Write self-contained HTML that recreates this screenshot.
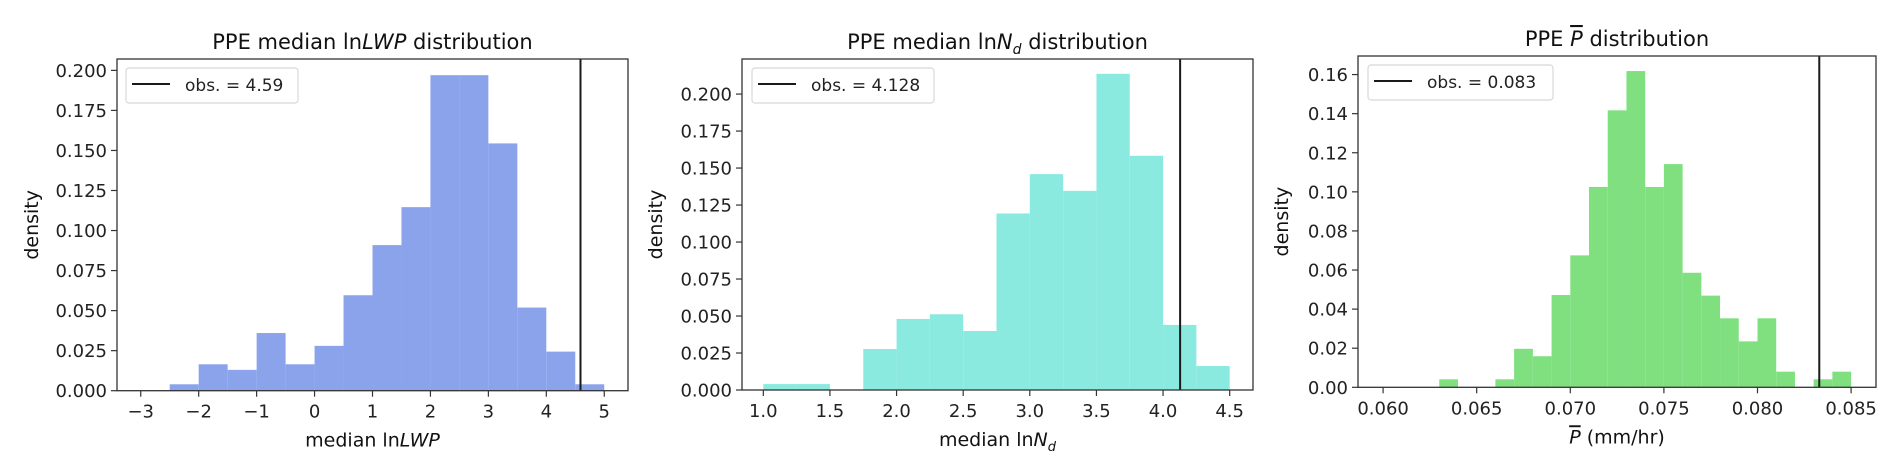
<!DOCTYPE html>
<html><head><meta charset="utf-8">
<style>
body{margin:0;background:#fff;}
svg{display:block;font-family:"DejaVu Sans","Liberation Sans",sans-serif;}
</style></head>
<body>
<svg id="fig" width="1892" height="469" viewBox="0 0 1892 469" xmlns="http://www.w3.org/2000/svg"></svg>
<script>
// Panel 1: ln LWP
const lwpBinEdges = [-2.5,-2,-1.5,-1,-0.5,0,0.5,1,1.5,2,2.5,3,3.5,4,4.5,5];
const lwpDensity = [0.004,0.0165,0.013,0.036,0.0165,0.028,0.0596,0.0909,0.1146,0.197,0.197,0.1544,0.0519,0.0244,0.004];
const lwpXTicks = [-3,-2,-1,0,1,2,3,4,5];
const lwpXTickLabels = ["\u22123","\u22122","\u22121","0","1","2","3","4","5"];
const lwpYTicks = [0,0.025,0.05,0.075,0.1,0.125,0.15,0.175,0.2];
const lwpYTickLabels = ["0.000","0.025","0.050","0.075","0.100","0.125","0.150","0.175","0.200"];
const lwpObs = 4.59;
// Panel 2: ln Nd
const ndBinEdges = [1,1.25,1.5,1.75,2,2.25,2.5,2.75,3,3.25,3.5,3.75,4,4.25,4.5];
const ndDensity = [0.004,0.004,0,0.0277,0.048,0.0512,0.0399,0.1193,0.1459,0.1346,0.2137,0.1583,0.044,0.0162];
const ndXTicks = [1,1.5,2,2.5,3,3.5,4,4.5];
const ndXTickLabels = ["1.0","1.5","2.0","2.5","3.0","3.5","4.0","4.5"];
const ndYTicks = [0,0.025,0.05,0.075,0.1,0.125,0.15,0.175,0.2];
const ndYTickLabels = ["0.000","0.025","0.050","0.075","0.100","0.125","0.150","0.175","0.200"];
const ndObs = 4.128;
// Panel 3: P bar
const pBinEdges = [0.063,0.064,0.065,0.066,0.067,0.068,0.069,0.070,0.071,0.072,0.073,0.074,0.075,0.076,0.077,0.078,0.079,0.080,0.081,0.082,0.083,0.084,0.085];
const pDensity = [0.0041,0,0,0.0041,0.0197,0.0159,0.0472,0.0675,0.1025,0.1417,0.1618,0.1025,0.1142,0.0586,0.0469,0.0353,0.0235,0.0353,0.008,0,0.0041,0.008];
const pXTicks = [0.060,0.065,0.070,0.075,0.080,0.085];
const pXTickLabels = ["0.060","0.065","0.070","0.075","0.080","0.085"];
const pYTicks = [0,0.02,0.04,0.06,0.08,0.10,0.12,0.14,0.16];
const pYTickLabels = ["0.00","0.02","0.04","0.06","0.08","0.10","0.12","0.14","0.16"];
const pObs = 0.0833;

const NS = "http://www.w3.org/2000/svg";
const svg = document.getElementById('fig');
function mk(tag, attrs, parent){
  const e = document.createElementNS(NS, tag);
  for (const k in attrs) e.setAttribute(k, attrs[k]);
  (parent||svg).appendChild(e);
  return e;
}

function panel(cfg){
  const g = mk('g', {});
  
  
  const L=cfg.left, R=cfg.right, T=cfg.top, B=cfg.bottom;
  const sx = v => L + (v - cfg.xmin) / (cfg.xmax - cfg.xmin) * (R - L);
  const sy = v => B - (v - cfg.ymin) / (cfg.ymax - cfg.ymin) * (B - T);
  // bars
  for (let i=0;i<cfg.density.length;i++){
    if (cfg.density[i] <= 0) continue;
    const x0 = sx(cfg.edges[i]), x1 = sx(cfg.edges[i+1]), y = sy(cfg.density[i]);
    const r = mk('rect', {x:x0, y:y, width:x1-x0, height:B-y, fill:cfg.color}, g);
    
    
  }
  // obs line
  const ox = sx(cfg.obs);
  const ol = mk('line', {x1:ox, x2:ox, y1:T, y2:B, stroke:'#1a1a1a', 'stroke-width':2}, g);
  
  
  // frame
  const fr = mk('rect', {x:L, y:T, width:R-L, height:B-T, fill:'none', stroke:'#333', 'stroke-width':1.3}, g);
  
  
  // x ticks
  cfg.xticks.forEach((v,i)=>{
    const x = sx(v);
    mk('line', {x1:x, x2:x, y1:B, y2:B+6, stroke:'#333', 'stroke-width':1.2}, g);
    const t = mk('text', {x:x, y:B+27, 'text-anchor':'middle', 'font-size':18, fill:'#222'}, g);
    t.textContent = cfg.xlabels[i];
    
    
  });
  // y ticks
  cfg.yticks.forEach((v,i)=>{
    const y = sy(v);
    mk('line', {x1:L-6, x2:L, y1:y, y2:y, stroke:'#333', 'stroke-width':1.2}, g);
    const t = mk('text', {x:L-10, y:y+6.5, 'text-anchor':'end', 'font-size':18, fill:'#222'}, g);
    t.textContent = cfg.ylabels[i];
    
    
  });
  // title
  const ti = mk('text', {x:(L+R)/2, y:T-10, 'text-anchor':'middle', 'font-size':21, fill:'#111'}, g);
  ti.innerHTML = cfg.title;
  
  
  // xlabel
  const xl = mk('text', {x:(L+R)/2, y:B+56, 'text-anchor':'middle', 'font-size':19, fill:'#111'}, g);
  xl.innerHTML = cfg.xtitle;
  
  
  // ylabel
  const yl = mk('text', {x:0, y:0, 'text-anchor':'middle', 'font-size':19, fill:'#111', transform:`translate(${cfg.ylabX},${(T+B)/2}) rotate(-90)`}, g);
  yl.textContent = 'density';
  
  
  // legend
  const lg = mk('g', {}, g);
  
  
  mk('rect', {x:cfg.leg[0], y:cfg.leg[1], width:cfg.leg[2], height:35, rx:3, fill:'#fff', 'fill-opacity':0.85, stroke:'#d8d8d8', 'stroke-width':1.2}, lg);
  mk('line', {x1:cfg.leg[0]+6, x2:cfg.leg[0]+44, y1:cfg.leg[1]+16, y2:cfg.leg[1]+16, stroke:'#1a1a1a', 'stroke-width':2}, lg);
  const lt = mk('text', {x:cfg.leg[0]+59, y:cfg.leg[1]+23, 'font-size':17, fill:'#222'}, lg);
  lt.textContent = cfg.legText;
  
  
}

panel({id:'lwp', left:117, right:628, top:59, bottom:390.7, xmin:-3.41, xmax:5.41, ymin:0, ymax:0.2071,
  edges:lwpBinEdges, density:lwpDensity, color:'#8aa3eb', obs:lwpObs,
  xticks:lwpXTicks, xlabels:lwpXTickLabels, yticks:lwpYTicks, ylabels:lwpYTickLabels,
  title:'PPE median ln<tspan font-style="italic">LWP</tspan> distribution',
  xtitle:'median ln<tspan font-style="italic">LWP</tspan>', ylabX:38, leg:[126,68,172], legText:'obs. = 4.59'});

panel({id:'nd', left:742, right:1253, top:59, bottom:390, xmin:0.84, xmax:4.675, ymin:0, ymax:0.2237,
  edges:ndBinEdges, density:ndDensity, color:'#8beadf', obs:ndObs,
  xticks:ndXTicks, xlabels:ndXTickLabels, yticks:ndYTicks, ylabels:ndYTickLabels,
  title:'PPE median ln<tspan font-style="italic">N</tspan><tspan font-style="italic" font-size="14" dy="5">d</tspan><tspan dy="-5"> distribution</tspan>',
  xtitle:'median ln<tspan font-style="italic">N</tspan><tspan font-style="italic" font-size="13" dy="5">d</tspan>', ylabX:662, leg:[752,68,182], legText:'obs. = 4.128'});

panel({id:'precip', left:1358, right:1876, top:56, bottom:387.3, xmin:0.05866, xmax:0.08633, ymin:0, ymax:0.1695,
  edges:pBinEdges, density:pDensity, color:'#80e080', obs:pObs,
  xticks:pXTicks, xlabels:pXTickLabels, yticks:pYTicks, ylabels:pYTickLabels,
  title:'PPE <tspan font-style="italic" text-decoration="overline">P</tspan> distribution',
  xtitle:'<tspan font-style="italic" text-decoration="overline">P</tspan> (mm/hr)', ylabX:1288, leg:[1368,65,185], legText:'obs. = 0.083'});
</script>
</body></html>
